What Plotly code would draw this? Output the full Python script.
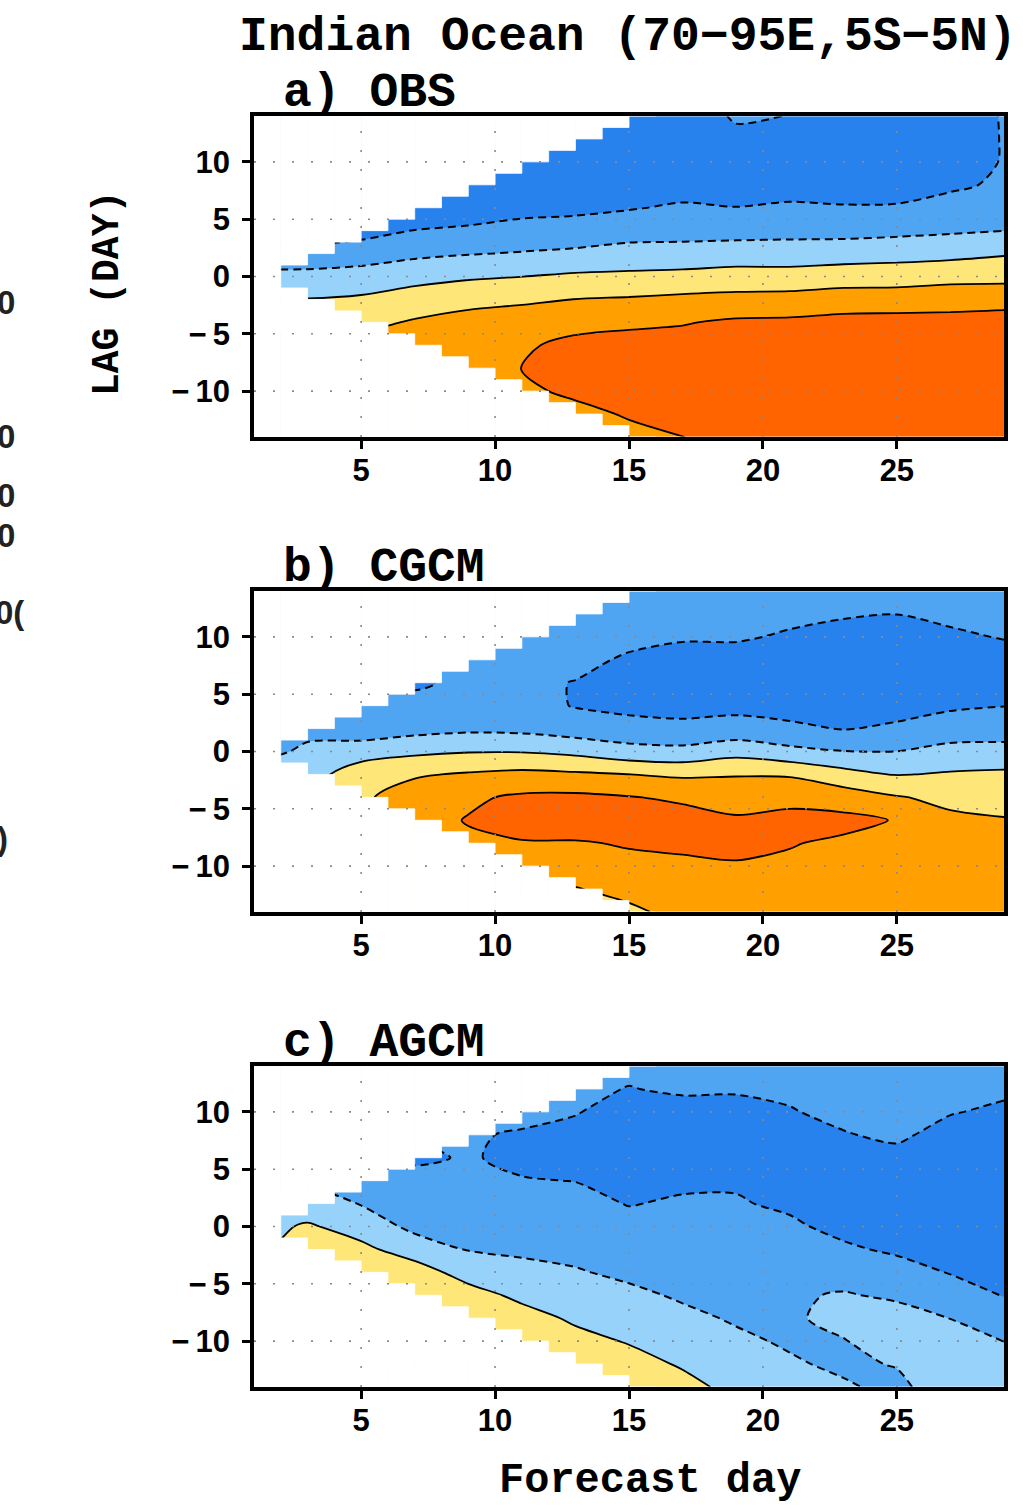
import plotly.graph_objects as go

# ---------------------------------------------------------------------------
# Lag-correlation fields, Indian Ocean box (70-95E, 5S-5N)
# Grid: forecast day (columns) x lag in days (rows)
# ---------------------------------------------------------------------------
forecast_day = [1, 3, 5, 7, 9, 11, 13, 15, 17, 19, 21, 23, 25, 27, 29]
lag_day = [-14, -12, -10, -8, -6, -4, -2, 0, 2, 4, 6, 8, 10, 12, 14]

# one lag profile (lag -14 .. 14) per forecast day
obs_profiles = [
    [0.36, 0.36, 0.34, 0.33, 0.26, 0.135, 0.006, -0.143, -0.322, -0.518, -0.6, -0.65, -0.65, -0.65, -0.65],
    [0.36, 0.36, 0.34, 0.33, 0.26, 0.135, 0.006, -0.143, -0.322, -0.518, -0.6, -0.65, -0.65, -0.65, -0.65],
    [0.36, 0.36, 0.34, 0.31, 0.265, 0.147, 0.029, -0.121, -0.292, -0.472, -0.56, -0.62, -0.65, -0.65, -0.65],
    [0.38, 0.38, 0.37, 0.35, 0.32, 0.22, 0.087, -0.064, -0.241, -0.395, -0.549, -0.62, -0.65, -0.65, -0.65],
    [0.37, 0.37, 0.37, 0.37, 0.34, 0.28, 0.134, -0.024, -0.21, -0.365, -0.52, -0.6, -0.64, -0.65, -0.65],
    [0.36, 0.37, 0.38, 0.402, 0.37, 0.31, 0.165, -0.002, -0.188, -0.328, -0.465, -0.56, -0.62, -0.65, -0.65],
    [0.35, 0.37, 0.42, 0.48, 0.456, 0.331, 0.203, 0.032, -0.165, -0.312, -0.447, -0.55, -0.6, -0.63, -0.63],
    [0.37, 0.41, 0.48, 0.5, 0.46, 0.371, 0.219, 0.041, -0.129, -0.278, -0.414, -0.52, -0.58, -0.6, -0.6],
    [0.395, 0.46, 0.52, 0.52, 0.47, 0.388, 0.243, 0.058, -0.13, -0.266, -0.373, -0.49, -0.56, -0.58, -0.55],
    [0.52, 0.55, 0.56, 0.55, 0.5, 0.43, 0.258, 0.08, -0.107, -0.268, -0.397, -0.47, -0.5, -0.46, -0.37],
    [0.56, 0.57, 0.57, 0.55, 0.5, 0.436, 0.268, 0.078, -0.108, -0.258, -0.379, -0.46, -0.5, -0.48, -0.405],
    [0.57, 0.58, 0.58, 0.56, 0.52, 0.464, 0.293, 0.107, -0.093, -0.261, -0.387, -0.48, -0.53, -0.55, -0.53],
    [0.58, 0.58, 0.58, 0.56, 0.52, 0.47, 0.296, 0.114, -0.075, -0.246, -0.383, -0.48, -0.54, -0.56, -0.55],
    [0.58, 0.58, 0.58, 0.56, 0.52, 0.47, 0.313, 0.14, -0.056, -0.224, -0.329, -0.433, -0.48, -0.5, -0.48],
    [0.58, 0.58, 0.58, 0.57, 0.54, 0.49, 0.32, 0.145, -0.017, -0.202, -0.3, -0.37, -0.39, -0.39, -0.39],
]

cgcm_profiles = [
    [0.05, 0.05, 0.04, 0.02, 0.01, -0.02, -0.08, -0.3, -0.32, -0.33, -0.34, -0.35, -0.35, -0.35, -0.35],
    [0.05, 0.05, 0.04, 0.02, 0.01, -0.01, -0.08, -0.15, -0.27, -0.32, -0.34, -0.35, -0.35, -0.35, -0.35],
    [0.1, 0.12, 0.14, 0.16, 0.17, 0.17, 0.11, -0.09, -0.32, -0.33, -0.38, -0.36, -0.35, -0.35, -0.35],
    [0.3, 0.32, 0.33, 0.34, 0.33, 0.29, 0.18, -0.04, -0.27, -0.36, -0.42, -0.38, -0.35, -0.34, -0.34],
    [0.3, 0.32, 0.34, 0.37, 0.41, 0.37, 0.22, -0.01, -0.24, -0.33, -0.37, -0.36, -0.35, -0.34, -0.34],
    [0.14, 0.22, 0.3, 0.39, 0.46, 0.43, 0.25, -0.01, -0.25, -0.33, -0.37, -0.37, -0.36, -0.35, -0.34],
    [0.12, 0.19, 0.3, 0.39, 0.47, 0.44, 0.23, -0.05, -0.3, -0.41, -0.405, -0.36, -0.35, -0.34, -0.34],
    [0.16, 0.26, 0.37, 0.41, 0.47, 0.41, 0.202, -0.13, -0.33, -0.45, -0.47, -0.42, -0.36, -0.34, -0.34],
    [0.26, 0.33, 0.37, 0.43, 0.47, 0.37, 0.17, -0.15, -0.34, -0.48, -0.5, -0.47, -0.38, -0.34, -0.34],
    [0.3, 0.35, 0.39, 0.43, 0.43, 0.3, 0.19, -0.07, -0.33, -0.45, -0.5, -0.47, -0.38, -0.34, -0.34],
    [0.32, 0.35, 0.37, 0.41, 0.45, 0.35, 0.18, -0.15, -0.36, -0.48, -0.52, -0.5, -0.42, -0.36, -0.34],
    [0.3, 0.32, 0.34, 0.37, 0.45, 0.306, 0.07, -0.195, -0.41, -0.5, -0.53, -0.52, -0.47, -0.38, -0.35],
    [0.28, 0.3, 0.32, 0.35, 0.39, 0.215, -0.01, -0.198, -0.37, -0.47, -0.51, -0.52, -0.48, -0.398, -0.36],
    [0.3, 0.3, 0.3, 0.28, 0.24, 0.15, 0.02, -0.14, -0.3, -0.43, -0.5, -0.5, -0.43, -0.36, -0.34],
    [0.3, 0.29, 0.27, 0.24, 0.21, 0.14, 0.04, -0.15, -0.27, -0.405, -0.47, -0.47, -0.39, -0.35, -0.34],
]

agcm_profiles = [
    [0.1, 0.08, 0.06, 0.04, 0.02, 0.01, -0.03, -0.06, -0.12, -0.24, -0.32, -0.35, -0.36, -0.36, -0.36],
    [0.2, 0.18, 0.16, 0.14, 0.12, 0.1, 0.06, 0.02, -0.1, -0.24, -0.32, -0.35, -0.36, -0.36, -0.36],
    [0.2, 0.18, 0.16, 0.14, 0.12, 0.09, 0.04, -0.07, -0.21, -0.3, -0.34, -0.36, -0.37, -0.37, -0.37],
    [0.22, 0.2, 0.17, 0.14, 0.11, 0.08, -0.08, -0.255, -0.31, -0.34, -0.43, -0.38, -0.37, -0.37, -0.37],
    [0.22, 0.2, 0.18, 0.14, 0.07, -0.07, -0.21, -0.28, -0.32, -0.36, -0.385, -0.39, -0.38, -0.37, -0.37],
    [0.2, 0.17, 0.13, 0.068, -0.04, -0.149, -0.229, -0.283, -0.336, -0.39, -0.44, -0.41, -0.37, -0.36, -0.36],
    [0.16, 0.11, 0.053, -0.027, -0.107, -0.187, -0.244, -0.297, -0.35, -0.403, -0.46, -0.45, -0.39, -0.37, -0.37],
    [0.14, 0.065, -0.012, -0.088, -0.165, -0.232, -0.29, -0.349, -0.407, -0.47, -0.5, -0.5, -0.47, -0.405, -0.37],
    [0.054, -0.018, -0.09, -0.163, -0.22, -0.26, -0.3, -0.34, -0.38, -0.43, -0.48, -0.5, -0.45, -0.38, -0.36],
    [-0.05, -0.11, -0.17, -0.217, -0.25, -0.284, -0.318, -0.351, -0.385, -0.42, -0.5, -0.52, -0.46, -0.38, -0.36],
    [-0.11, -0.18, -0.22, -0.215, -0.215, -0.27, -0.32, -0.37, -0.43, -0.5, -0.53, -0.52, -0.41, -0.37, -0.35],
    [-0.18, -0.23, -0.205, -0.17, -0.19, -0.25, -0.37, -0.45, -0.52, -0.55, -0.52, -0.41, -0.36, -0.35, -0.35],
    [-0.24, -0.19, -0.15, -0.15, -0.22, -0.32, -0.43, -0.5, -0.55, -0.55, -0.45, -0.37, -0.35, -0.35, -0.35],
    [-0.1, -0.12, -0.15, -0.202, -0.3, -0.41, -0.48, -0.53, -0.56, -0.56, -0.53, -0.46, -0.39, -0.36, -0.35],
    [-0.1, -0.13, -0.202, -0.28, -0.41, -0.48, -0.53, -0.56, -0.57, -0.57, -0.55, -0.5, -0.43, -0.37, -0.35],
]

panel_titles = ["a) OBS", "b) CGCM", "c) AGCM"]
main_title = "Indian Ocean (70\u221295E,5S\u22125N)"
x_tick_vals = [5, 10, 15, 20, 25]
y_tick_vals = [-10, -5, 0, 5, 10]
y_tick_text = ["\u2212\u200910", "\u2212\u20095", "0", "5", "10"]

# contour levels: dashed below zero, solid from zero up
level_start, level_end, level_step = -0.4, 0.4, 0.2

# shading for the six bands: < -0.4, -0.4..-0.2, -0.2..0, 0..0.2, 0.2..0.4, > 0.4
band_colors = ["#2882EE", "#50A5F2", "#96D2FA", "#FFE678", "#FFA000", "#FF6400"]

# forecast windows starting on day k (k = 1..28) only cover lags |lag| <= k - 1
window_start = list(range(1, 29))
window_half_lag = [k - 1 for k in window_start]
lag_limit = 14


def to_rows(profiles):
    return [[col[i] for col in profiles] for i in range(len(lag_day))]


def stepped_scale(colors):
    n = len(colors)
    scale = []
    edges = [0.0] + [(i + 0.5) / (n - 1) for i in range(n - 1)] + [1.0]
    for i, c in enumerate(colors):
        scale.append([edges[i], c])
        scale.append([edges[i + 1], c])
    return scale


# layout geometry (pixels)
W, H = 1023, 1506
ML, MR, MT, MB = 254, 19, 116, 119
PW = W - ML - MR
PH = H - MT - MB
panel_px = [(116, 437), (591, 912), (1066, 1387)]


def px_x(px):
    return (px - ML) / PW


def px_y(py):
    return (H - MB - py) / PH


fig = go.Figure()
colorscale = stepped_scale(band_colors)

mask_x = [k + 0.5 for k in window_start]
mask_height = [lag_limit - h for h in window_half_lag]

for p, profiles in enumerate([obs_profiles, cgcm_profiles, agcm_profiles]):
    xa = "x" if p == 0 else f"x{p + 1}"
    ya = "y" if p == 0 else f"y{p + 1}"
    z = to_rows(profiles)

    fig.add_trace(go.Contour(
        x=forecast_day, y=lag_day, z=z, xaxis=xa, yaxis=ya,
        colorscale=colorscale, showscale=False,
        contours=dict(start=level_start, end=level_end, size=level_step,
                      coloring="fill", showlines=False),
        line=dict(width=0, smoothing=0.85),
        hoverinfo="skip",
    ))
    fig.add_trace(go.Contour(
        x=forecast_day, y=lag_day, z=z, xaxis=xa, yaxis=ya,
        showscale=False,
        contours=dict(start=level_start, end=-level_step, size=level_step,
                      coloring="none"),
        line=dict(color="black", width=2, dash="8px,5px", smoothing=0.85),
        hoverinfo="skip",
    ))
    fig.add_trace(go.Contour(
        x=forecast_day, y=lag_day, z=z, xaxis=xa, yaxis=ya,
        showscale=False,
        contours=dict(start=0, end=level_end, size=level_step,
                      coloring="none"),
        line=dict(color="black", width=1.8, smoothing=0.85),
        hoverinfo="skip",
    ))
    # blank out lags beyond each forecast window (above and below)
    mask_style = dict(color="white", line=dict(color="white", width=0.8))
    fig.add_trace(go.Bar(
        x=mask_x, y=mask_height, base=window_half_lag, width=1.0,
        xaxis=xa, yaxis=ya, marker=mask_style, hoverinfo="skip",
    ))
    fig.add_trace(go.Bar(
        x=mask_x, y=mask_height, base=[-lag_limit] * len(mask_x), width=1.0,
        xaxis=xa, yaxis=ya, marker=mask_style, hoverinfo="skip",
    ))

    top, bot = panel_px[p]
    dom = [px_y(bot), px_y(top)]
    axis_common = dict(
        showline=True, linewidth=3.5, linecolor="black", mirror=True,
        ticks="outside", ticklen=8, tickwidth=3, tickcolor="black",
        showgrid=False, zeroline=False,
        tickfont=dict(family="Liberation Sans", size=31, color="black", weight="bold"),
    )
    fig.layout[("xaxis" if p == 0 else f"xaxis{p + 1}")] = dict(
        axis_common, range=[1, 29], tickvals=x_tick_vals, domain=[0, 1],
        anchor=ya, ticklabelstandoff=-5,
    )
    fig.layout[("yaxis" if p == 0 else f"yaxis{p + 1}")] = dict(
        axis_common, range=[-14, 14], tickvals=y_tick_vals, ticktext=y_tick_text,
        domain=dom, anchor=xa, ticklabelstandoff=6,
    )

    # dotted grid drawn over the shading
    for xv in x_tick_vals:
        fig.add_shape(type="line", xref=xa, yref=f"{ya} domain", x0=xv, x1=xv, y0=0, y1=1,
                      line=dict(color="#8a8a8a", width=1.6, dash="2px,17px"), layer="above")
    for yv in y_tick_vals:
        fig.add_shape(type="line", xref=f"{xa} domain", yref=ya, x0=0, x1=1, y0=yv, y1=yv,
                      line=dict(color="#8a8a8a", width=1.6, dash="2px,17px"), layer="above")

    fig.add_annotation(
        text=panel_titles[p], xref="paper", yref="paper",
        x=px_x(281), y=px_y(top - 23), xanchor="left", yanchor="middle",
        showarrow=False,
        font=dict(family="Liberation Mono", size=48, color="black", weight="bold"),
    )

mono = dict(family="Liberation Mono", color="black", weight="bold")
fig.add_annotation(text=main_title, xref="paper", yref="paper",
                   x=px_x(237), y=px_y(37), xanchor="left", yanchor="middle",
                   showarrow=False, font=dict(mono, size=48))
fig.add_annotation(text="LAG (DAY)", xref="paper", yref="paper",
                   x=px_x(107), y=px_y(294), xanchor="center", yanchor="middle",
                   textangle=-90, showarrow=False, font=dict(mono, size=38))
fig.add_annotation(text="Forecast day", xref="paper", yref="paper",
                   x=px_x(650), y=px_y(1481), xanchor="center", yanchor="middle",
                   showarrow=False, font=dict(mono, size=42))

# tick labels of the neighbouring frame, cut by the left page edge
edge_text = ["0", "0", "0", "0", "0(", ")"]
edge_y = [302, 436, 495, 535, 612, 838]
edge_right = [17, 17, 17, 17, 26, 10]
for t, yy, xr in zip(edge_text, edge_y, edge_right):
    fig.add_annotation(text=t, xref="paper", yref="paper",
                       x=px_x(xr), y=px_y(yy), xanchor="right", yanchor="middle",
                       showarrow=False,
                       font=dict(family="Liberation Sans", size=33, color="#222222",
                                 weight="bold"))

fig.update_layout(
    width=W, height=H,
    margin=dict(l=ML, r=MR, t=MT, b=MB, pad=0),
    paper_bgcolor="white", plot_bgcolor="white",
    showlegend=False, hovermode=False, barmode="overlay",
)

fig.write_html("out.html")
